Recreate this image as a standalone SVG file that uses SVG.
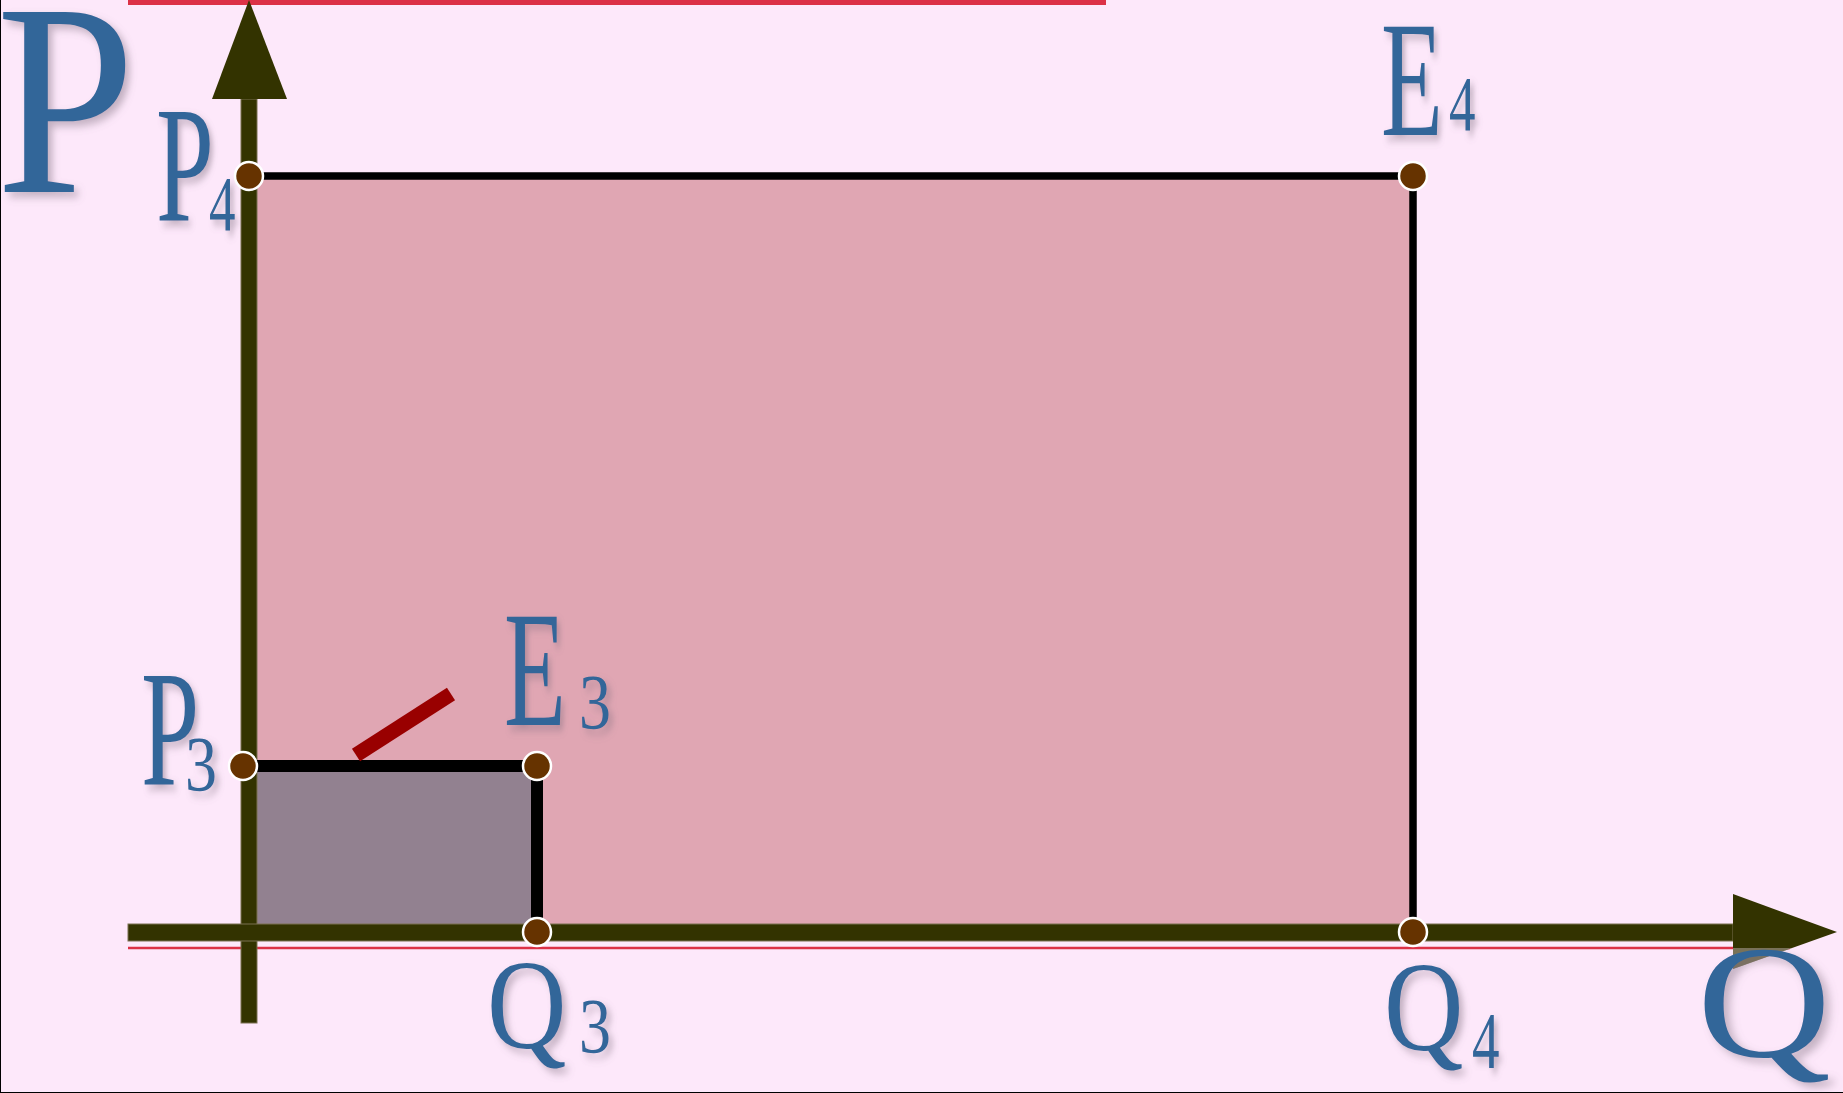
<svg xmlns="http://www.w3.org/2000/svg" width="1843" height="1093" viewBox="0 0 1843 1093">
<defs>
<filter id="sh" x="-20%" y="-20%" width="150%" height="150%">
<feDropShadow dx="5" dy="5" stdDeviation="4" flood-color="#7a6a7a" flood-opacity="0.45"/>
</filter>
<style>
.lbl{font-family:"Liberation Serif","Times New Roman",serif;fill:#336699;filter:url(#sh)}
.dot{fill:#663300;stroke:#ffffff;stroke-width:2.5}
.axis{fill:#333300;stroke:#7a7050;stroke-width:1}
.edge{stroke:#000000;fill:none}
</style>
</defs>
<rect x="0" y="0" width="1843" height="1093" fill="#FDE8FA"/>
<line x1="0.5" y1="0" x2="0.5" y2="1093" stroke="#000" stroke-width="1"/>
<line x1="0" y1="1092.5" x2="1843" y2="1092.5" stroke="#000" stroke-width="1"/>
<rect x="128" y="0" width="978" height="5" fill="#DC3146"/>

<g id="areas">
<rect x="249" y="176" width="1164" height="756" fill="#E0A6B3"/>
<rect x="249" y="766" width="288" height="166" fill="#928190"/>
</g>

<g id="connectors">
<line x1="128" y1="948" x2="1790" y2="948" stroke="#DC3146" stroke-width="2.5"/>
<rect class="axis" x="241" y="99" width="16" height="924"/>
<polygon points="249,0 212,99 287,99" fill="#333300"/>
<rect class="axis" x="128" y="924" width="1605" height="17"/>
<polygon points="1733,894 1837,932 1733,969" fill="#333300"/>
<polygon points="1733,948 1792,948 1733,969" fill="#FDE8FA" opacity="0.35"/>
<polyline class="edge" points="253,176 1413,176 1413,932" stroke-width="7.5"/>
<polyline class="edge" points="249,766 537,766 537,932" stroke-width="12"/>
<line x1="356" y1="755" x2="451" y2="694" stroke="#990000" stroke-width="15"/>
</g>

<g id="axis-P">
<text class="lbl" transform="translate(-4,192) scale(0.91,1)" font-size="275">P</text>
</g>
<g id="axis-Q">
<text class="lbl" transform="translate(1697,1056) scale(1.16,1)" font-size="160">Q</text>
</g>

<g id="P4">
<circle class="dot" cx="249" cy="176" r="14"/>
<text class="lbl" transform="translate(156,221) scale(0.63,1)" font-size="165">P</text>
<text class="lbl" transform="translate(209,230) scale(0.68,1)" font-size="78">4</text>
</g>
<g id="E4">
<circle class="dot" cx="1413" cy="176" r="14"/>
<text class="lbl" transform="translate(1381,135) scale(0.61,1)" font-size="166">E</text>
<text class="lbl" transform="translate(1449,130) scale(0.68,1)" font-size="78">4</text>
</g>
<g id="P3">
<circle class="dot" cx="243" cy="766" r="14"/>
<text class="lbl" transform="translate(141,785) scale(0.63,1)" font-size="166">P</text>
<text class="lbl" transform="translate(185,790) scale(0.82,1)" font-size="78">3</text>
</g>
<g id="E3">
<circle class="dot" cx="537" cy="766" r="14"/>
<text class="lbl" transform="translate(504,725) scale(0.61,1)" font-size="166">E</text>
<text class="lbl" transform="translate(579,728) scale(0.82,1)" font-size="78">3</text>
</g>
<g id="Q3">
<circle class="dot" cx="537" cy="932" r="14"/>
<text class="lbl" transform="translate(487,1048) scale(0.86,1)" font-size="128">Q</text>
<text class="lbl" transform="translate(579,1052) scale(0.82,1)" font-size="78">3</text>
</g>
<g id="Q4">
<circle class="dot" cx="1413" cy="932" r="14"/>
<text class="lbl" transform="translate(1384,1050) scale(0.86,1)" font-size="128">Q</text>
<text class="lbl" transform="translate(1472,1068) scale(0.68,1)" font-size="81">4</text>
</g>
</svg>
